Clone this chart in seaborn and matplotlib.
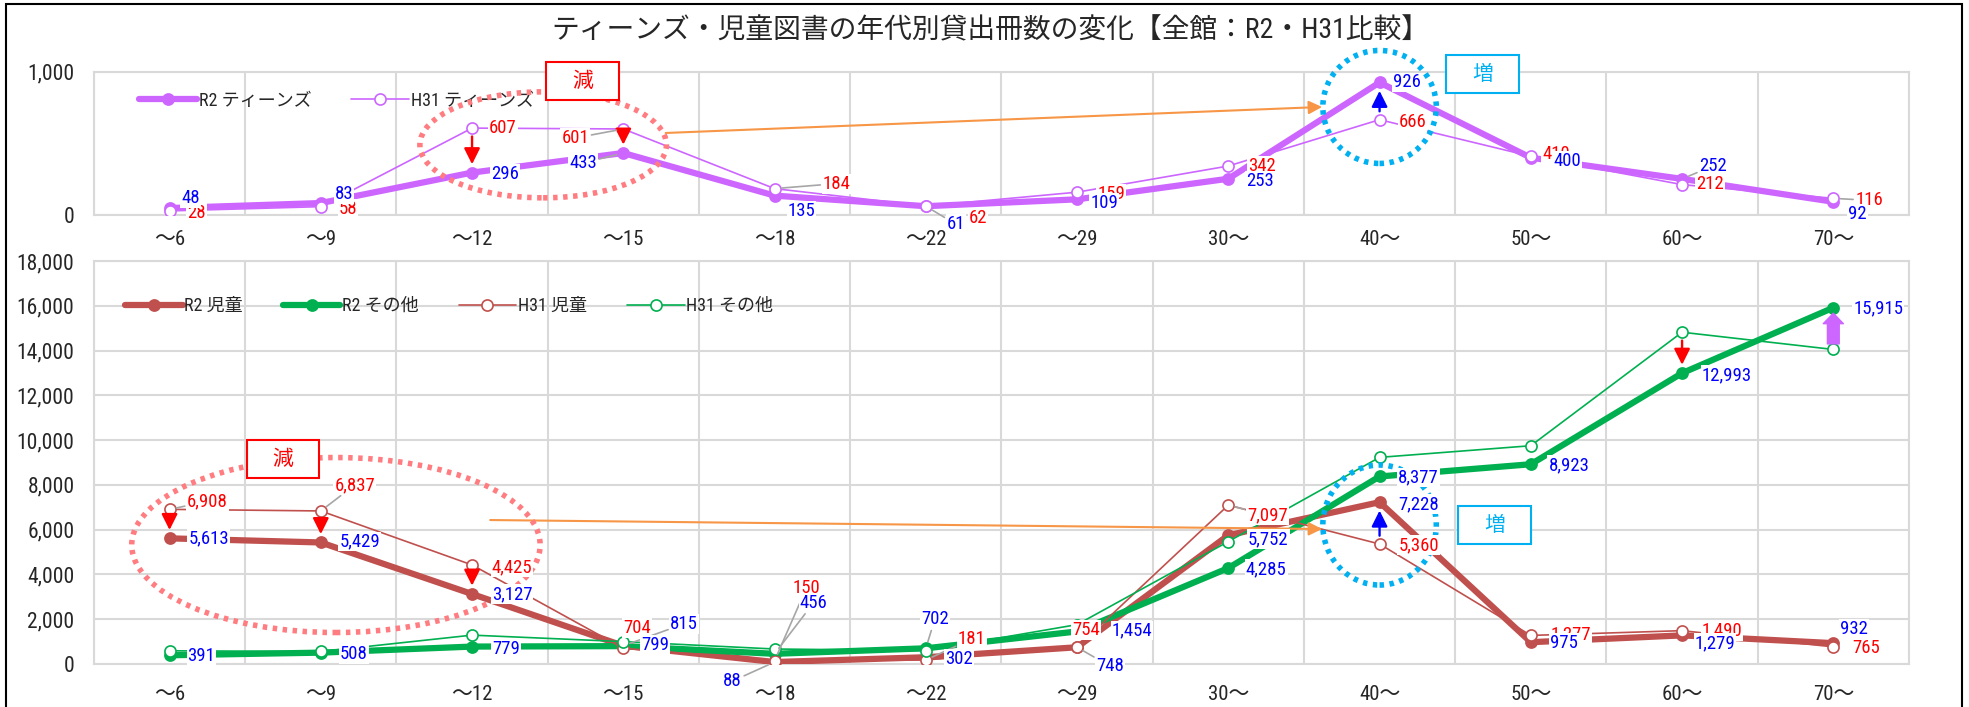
import numpy as np
import pandas as pd
import matplotlib
matplotlib.use('Agg')
import matplotlib.pyplot as plt
from matplotlib import font_manager
from matplotlib.patches import Ellipse, Rectangle
import seaborn as sns

# age bands on the x axis
ages = ['～6', '～9', '～12', '～15', '～18', '～22', '～29', '30～', '40～', '50～', '60～', '70～']

# top panel: teens books
r2_teens = [48, 83, 296, 433, 135, 61, 109, 253, 926, 400, 252, 92]
h31_teens = [28, 58, 607, 601, 184, 62, 159, 342, 666, 410, 212, 116]

# bottom panel: children's books / others
r2_child = [5613, 5429, 3127, 815, 88, 302, 748, 5752, 7228, 975, 1279, 932]
r2_other = [391, 508, 779, 799, 456, 702, 1454, 4285, 8377, 8923, 12993, 15915]
h31_child = [6908, 6837, 4425, 704, 150, 181, 754, 7097, 5360, 1277, 1490, 765]
h31_other = [590, 560, 1290, 1000, 670, 600, 1760, 5470, 9230, 9750, 14820, 14050]  # no labels in the source

title = 'ティーンズ・児童図書の年代別貸出冊数の変化【全館：R2・H31比較】'

# label offsets in pixels (dx, dy downwards) and which labels get a leader line
off_r2_teens = [(21, -10), (23, -9), (33, 1), (-40, 10), (27, 15), (30, 18), (27, 4), (32, 2), (27, 0), (36, 3), (31, -13), (24, 12)]
off_h31_teens = [(27, 2), (27, 2), (31, 0), (-48, 9), (62, -5), (52, 12), (34, 2), (34, 0), (33, 2), (25, -2), (28, -1), (36, 2)]
off_r2_child = [(39, 0), (39, -1), (40, 0), (61, -22), (-42, 19), (33, 2), (33, 19), (40, 4), (39, 2), (33, 1), (33, 8), (21, -14)]
off_r2_other = [(32, 1), (33, 1), (34, 2), (32, -1), (39, -51), (9, -29), (55, -1), (38, 1), (39, 1), (38, 1), (45, 2), (45, 1)]
off_h31_child = [(38, -8), (34, -26), (40, 2), (14, -20), (32, -73), (46, -21), (9, -17), (39, 10), (39, 1), (40, -1), (40, 0), (33, 1)]
lead_r2_teens = {3, 5, 10}
lead_h31_teens = {3, 4, 11}
lead_r2_child = {3, 4, 6}
lead_r2_other = {4, 5}
lead_h31_child = {0, 1, 4, 5, 7}

PURPLE = '#CC66FF'
BROWN = '#C0504D'
GREEN = '#00B050'
GRID = '#D9D9D9'
CYAN = '#00B0F0'
PINK = '#FF7C80'
ORANGE = '#F79646'

sns.set_style('white')

# the source uses a narrow gothic face; take a condensed latin font if one is installed
names = {f.name for f in font_manager.fontManager.ttflist}
num_font = next((n for n in ['Liberation Sans Narrow', 'Arial Narrow', 'Roboto Condensed',
                             'Open Sans Condensed', 'Noto Sans Condensed'] if n in names), None)
stretch = 'normal'
if num_font is None and any(f.name == 'Noto Sans' and f.stretch in ('condensed', 'semi-condensed')
                            for f in font_manager.fontManager.ttflist):
    num_font, stretch = 'Noto Sans', 'condensed'
families = ([num_font] if num_font else []) + ['Noto Sans CJK JP', 'DejaVu Sans']
plt.rcParams['font.family'] = families
plt.rcParams['font.stretch'] = stretch

fig = plt.figure(figsize=(19.69, 7.07), dpi=100)
ax1 = fig.add_axes([0.0477, 0.696, 0.9218, 0.2023])
ax2 = fig.add_axes([0.0477, 0.0608, 0.9218, 0.570])

pos = np.arange(len(ages))


def draw(ax, values, color, lw, ms, filled, label, z):
    df = pd.DataFrame({'pos': pos, 'val': values})
    sns.lineplot(data=df, x='pos', y='val', ax=ax, color=color, linewidth=lw,
                 marker='o', markersize=ms,
                 markerfacecolor=color if filled else 'white',
                 markeredgecolor=color, markeredgewidth=1.2,
                 label=label, errorbar=None, zorder=z)


def labels(ax, values, offsets, leaders, color):
    for i, v in enumerate(values):
        dx, dy = offsets[i]
        props = None
        if i in leaders:
            props = dict(arrowstyle='-', color='#A6A6A6', lw=1.2, shrinkA=1, shrinkB=5)
        ax.annotate(f'{v:,}', xy=(i, v), xytext=(dx, -dy), textcoords='offset pixels',
                    ha='center', va='center', color=color, fontsize=13.5,
                    bbox=dict(boxstyle='square,pad=0.05', fc='white', ec='none'),
                    arrowprops=props, zorder=10, annotation_clip=False)


def change_arrow(ax, i, old, new, color, fat=False):
    if fat:
        props = dict(arrowstyle='simple,head_width=1.45,head_length=0.75,tail_width=0.85',
                     color=color, mutation_scale=10, shrinkA=4, shrinkB=4)
    else:
        props = dict(arrowstyle='-|>', color=color, lw=1.7, mutation_scale=24,
                     shrinkA=6, shrinkB=6)
    ax.annotate('', xy=(i, new), xytext=(i, old), arrowprops=props, zorder=6)


def style(ax, ymax, step, pad):
    ax.set_xlim(-0.5, len(ages) - 0.5)
    ax.set_ylim(0, ymax)
    ax.set_xticks(pos)
    ax.set_xticklabels(ages, fontsize=15)
    ax.set_xticks(np.arange(-0.5, len(ages)), minor=True)
    ax.set_yticks(np.arange(0, ymax + 1, step))
    ax.set_yticklabels([f'{int(t):,}' for t in np.arange(0, ymax + 1, step)], fontsize=15.5)
    ax.tick_params(axis='both', which='both', length=0)
    ax.tick_params(axis='x', pad=pad)
    ax.tick_params(axis='y', pad=14)
    ax.grid(True, axis='y', which='major', color=GRID, lw=1.5)
    ax.grid(True, axis='x', which='minor', color=GRID, lw=1.5)
    ax.set_axisbelow(True)
    for s in ax.spines.values():
        s.set_color(GRID)
        s.set_linewidth(1.5)
    ax.set_xlabel('')
    ax.set_ylabel('')


def memo_box(ax, x, y, w, h, text, color):
    ax.add_patch(Rectangle((x - w / 2, y - h / 2), w, h, fc='white', ec=color, lw=1.5,
                           zorder=8, clip_on=False))
    ax.text(x, y, text, color=color, ha='center', va='center', fontsize=15,
            family=['Noto Sans CJK JP'], zorder=9, clip_on=False)


def ring(ax, x, y, w, h, color):
    ax.add_patch(Ellipse((x, y), w, h, fill=False, ec=color, lw=4,
                         linestyle=(0, (0.8, 1.0)), zorder=7, clip_on=False))


# ---- top panel: teens
draw(ax1, r2_teens, PURPLE, 4.5, 8, True, 'R2 ティーンズ', 3)
draw(ax1, h31_teens, PURPLE, 1.2, 8, False, 'H31 ティーンズ', 4)
style(ax1, 1000, 1000, 11)
labels(ax1, h31_teens, off_h31_teens, lead_h31_teens, 'red')
labels(ax1, r2_teens, off_r2_teens, lead_r2_teens, 'blue')
for i in [2, 3, 8]:
    change_arrow(ax1, i, h31_teens[i], r2_teens[i], 'red' if r2_teens[i] < h31_teens[i] else 'blue')
ring(ax1, 2.47, 490, 1.63, 741, PINK)
ring(ax1, 8.0, 755, 0.75, 790, CYAN)
memo_box(ax1, 2.73, 937, 0.48, 266, '減', 'red')
memo_box(ax1, 8.68, 986, 0.48, 266, '増', CYAN)
ax1.annotate('', xy=(7.62, 755), xytext=(3.28, 573),
             arrowprops=dict(arrowstyle='-|>', color=ORANGE, lw=1.5, mutation_scale=20,
                             shrinkA=0, shrinkB=0), zorder=6)
ax1.legend(loc='center left', bbox_to_anchor=(0.02, 0.80), ncol=2, frameon=False,
           fontsize=13, handlelength=3.2, handletextpad=0.1, columnspacing=2.2, borderpad=0)

# ---- bottom panel: children / others
draw(ax2, r2_child, BROWN, 4.5, 8, True, 'R2 児童', 3)
draw(ax2, r2_other, GREEN, 4.5, 8, True, 'R2 その他', 3)
draw(ax2, h31_child, BROWN, 1.2, 8, False, 'H31 児童', 4)
draw(ax2, h31_other, GREEN, 1.2, 8, False, 'H31 その他', 4)
style(ax2, 18000, 2000, 15)
labels(ax2, h31_child, off_h31_child, lead_h31_child, 'red')
labels(ax2, r2_child, off_r2_child, lead_r2_child, 'blue')
labels(ax2, r2_other, off_r2_other, lead_r2_other, 'blue')
for i in [0, 1, 2, 8]:
    change_arrow(ax2, i, h31_child[i], r2_child[i], 'red' if r2_child[i] < h31_child[i] else 'blue')
change_arrow(ax2, 10, h31_other[10], r2_other[10], 'red')
change_arrow(ax2, 11, h31_other[11], r2_other[11], PURPLE, fat=True)
ring(ax2, 1.10, 5315, 2.70, 7816, PINK)
ring(ax2, 8.0, 6208, 0.75, 5360, CYAN)
memo_box(ax2, 0.75, 9156, 0.48, 1697, '減', 'red')
memo_box(ax2, 8.76, 6208, 0.48, 1697, '増', CYAN)
ax2.annotate('', xy=(7.62, 6030), xytext=(2.12, 6431),
             arrowprops=dict(arrowstyle='-|>', color=ORANGE, lw=1.5, mutation_scale=20,
                             shrinkA=0, shrinkB=0), zorder=6)
ax2.legend(loc='center left', bbox_to_anchor=(0.012, 0.888), ncol=4, frameon=False,
           fontsize=13, handlelength=3.2, handletextpad=0.1, columnspacing=2.2, borderpad=0)

fig.text(0.503, 0.956, title, ha='center', va='center', fontsize=20)
fig.patches.append(Rectangle((6 / 1969, -0.01), 1956 / 1969, 1.004, transform=fig.transFigure,
                             fill=False, ec='black', lw=1.5))

fig.savefig('out.png', dpi=100)
